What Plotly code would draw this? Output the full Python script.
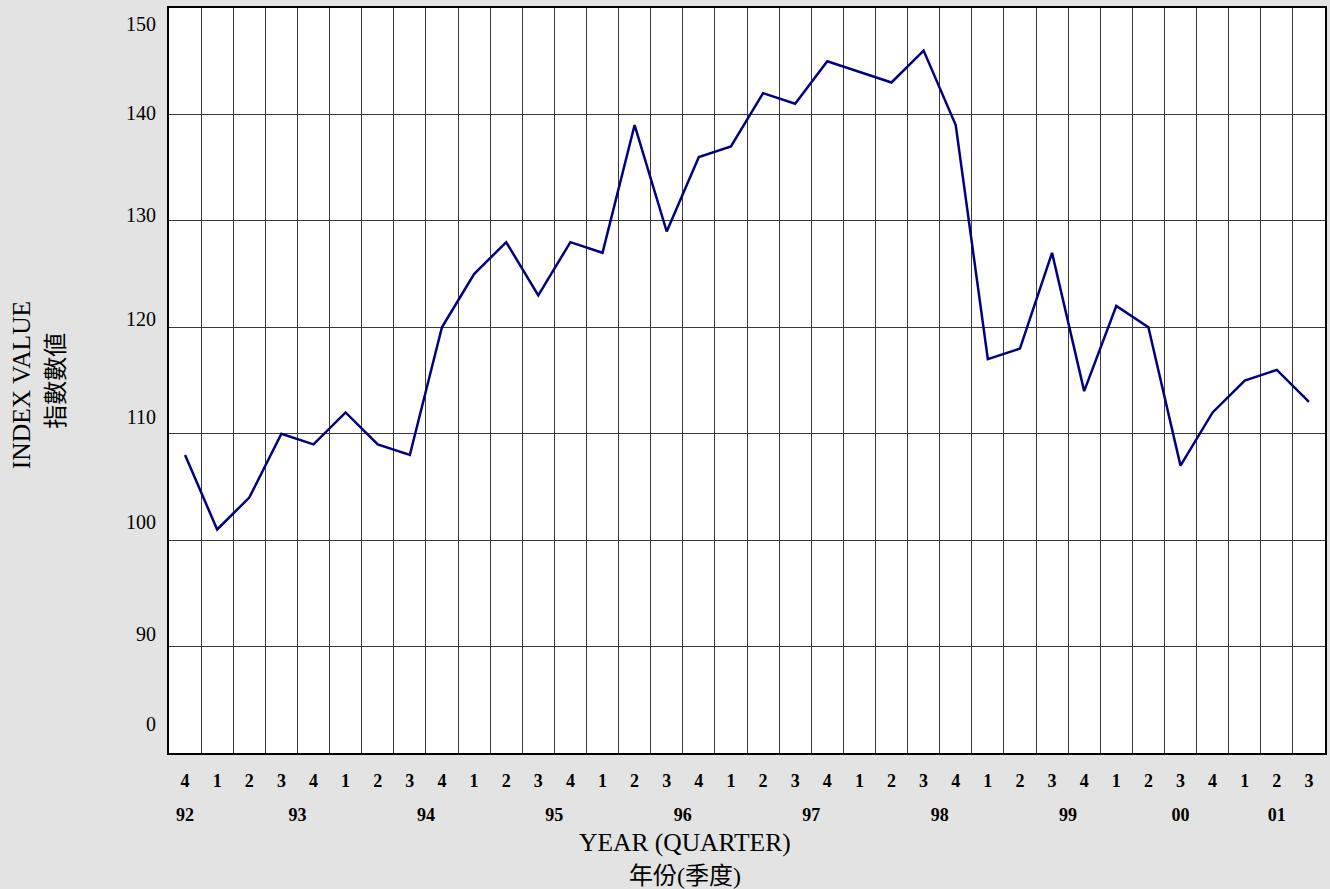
import plotly.graph_objects as go

# ---- data ----
quarter_labels = ["4",
                  "1", "2", "3", "4",
                  "1", "2", "3", "4",
                  "1", "2", "3", "4",
                  "1", "2", "3", "4",
                  "1", "2", "3", "4",
                  "1", "2", "3", "4",
                  "1", "2", "3", "4",
                  "1", "2", "3", "4",
                  "1", "2", "3"]
index_values = [108, 101, 104, 110, 109, 112, 109, 108, 120,
                125, 128, 123, 128, 127, 139, 129, 136,
                137, 142, 141, 145, 144, 143, 146, 139,
                117, 118, 127, 114, 122, 120, 107, 112,
                115, 116, 113]
year_labels = ["92", "93", "94", "95", "96", "97", "98", "99", "00", "01"]
year_label_pos = [0, 3.5, 7.5, 11.5, 15.5, 19.5, 23.5, 27.5, 31, 34]
y_grid_vals = [90, 100, 110, 120, 130, 140]
y_label_text = ["150", "140", "130", "120", "110", "100", "90", "0"]
y_label_pos = [148.5, 140.1, 130.55, 120.75, 111.6, 101.7, 91.2, 82.7]

x_idx = list(range(len(index_values)))
SERIF = "Liberation Serif, Times New Roman, Noto Sans CJK TC, serif"
CJK = "Liberation Serif, Noto Sans CJK TC, serif"

fig = go.Figure()
fig.add_trace(go.Scatter(x=x_idx, y=index_values, mode="lines",
                         line=dict(color="#000080", width=2.5),
                         showlegend=False, hoverinfo="skip"))
fig.add_trace(go.Scatter(x=x_idx, y=index_values, mode="lines",
                         line=dict(color="rgba(0,0,0,0)", width=0),
                         xaxis="x2", yaxis="y2",
                         showlegend=False, hoverinfo="skip"))

xr = [-0.5, len(index_values) - 0.5]
yr = [80, 150]

fig.update_layout(
    width=1330, height=889,
    margin=dict(l=169, r=3, t=8, b=136),
    paper_bgcolor="#e3e3e3",
    plot_bgcolor="white",
    font=dict(family=SERIF, color="black"),
    xaxis=dict(
        range=xr, tickmode="array", tickvals=x_idx,
        ticktext=["<b>%s</b>" % q for q in quarter_labels],
        tickfont=dict(size=18, family=SERIF),
        ticks="", showgrid=False, zeroline=False,
        showline=True, linecolor="black", linewidth=1.5, mirror=True,
        ticklabelstandoff=11,
        minor=dict(tickmode="linear", tick0=0.5, dtick=1, showgrid=True,
                   gridcolor="#3a3a3a", gridwidth=1, ticks=""),
    ),
    xaxis2=dict(
        range=xr, overlaying="x", anchor="y", side="bottom",
        tickmode="array", tickvals=year_label_pos,
        ticktext=["<b>%s</b>" % y for y in year_labels],
        tickfont=dict(size=18, family=SERIF),
        ticks="", showgrid=False, zeroline=False, showline=False,
        ticklabelstandoff=49,
    ),
    yaxis=dict(
        range=yr, tickmode="array", tickvals=y_grid_vals,
        showticklabels=False, ticks="",
        showgrid=True, gridcolor="#3a3a3a", gridwidth=1, zeroline=False,
        showline=True, linecolor="black", linewidth=1.5, mirror=True,
    ),
    yaxis2=dict(
        range=yr, overlaying="y", anchor="x", side="left",
        tickmode="array", tickvals=y_label_pos, ticktext=y_label_text,
        tickfont=dict(size=20, family=SERIF),
        ticks="", showgrid=False, zeroline=False, showline=False,
        ticklabelstandoff=12,
    ),
)

annotations = [
    dict(text="INDEX VALUE", x=-0.127, y=0.494, xref="paper", yref="paper",
         textangle=-90, showarrow=False, font=dict(size=25.5, family=SERIF),
         xanchor="center", yanchor="middle"),
    dict(text="指數數値", x=-0.0984, y=0.50, xref="paper", yref="paper",
         textangle=-90, showarrow=False, font=dict(size=24, family=CJK),
         xanchor="center", yanchor="middle"),
    dict(text="YEAR (QUARTER)", x=0.4465, y=-0.1195, xref="paper", yref="paper",
         showarrow=False, font=dict(size=25.5, family=SERIF),
         xanchor="center", yanchor="middle"),
    dict(text="年份(季度)", x=0.4465, y=-0.165, xref="paper", yref="paper",
         showarrow=False, font=dict(size=24, family=CJK),
         xanchor="center", yanchor="middle"),
]
fig.update_layout(annotations=annotations)

fig.write_html("out.html",
               config={"displayModeBar": False},
               post_script="document.body.style.margin='0';document.body.style.overflow='hidden';")
